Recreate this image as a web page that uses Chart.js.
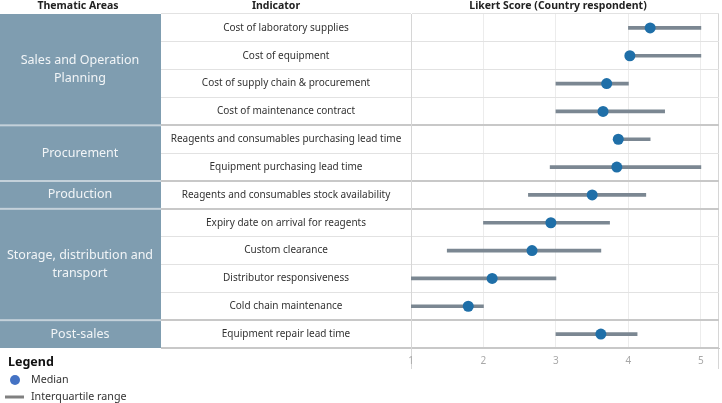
<!DOCTYPE html>
<html>
<head>
<meta charset="utf-8">
<script src="https://cdn.jsdelivr.net/npm/chart.js@4.4.1/dist/chart.umd.min.js"></script>
<style>
  html, body { margin: 0; padding: 0; background: #fff; }
  #wrap { width: 722px; height: 403px; position: relative; }
</style>
</head>
<body>
<div id="wrap"><canvas id="likert"></canvas></div>
<script>
const indicators = [
    'Cost of laboratory supplies',
    'Cost of equipment',
    'Cost of supply chain & procurement',
    'Cost of maintenance contract',
    'Reagents and consumables purchasing lead time',
    'Equipment purchasing lead time',
    'Reagents and consumables stock availability',
    'Expiry date on arrival for reagents',
    'Custom clearance',
    'Distributor responsiveness',
    'Cold chain maintenance',
    'Equipment repair lead time'
];
const q1Values     = [4.0, 4.0, 3.0, 3.0, 3.85, 2.92, 2.62, 2.0, 1.5, 1.0, 1.0, 3.0];
const q3Values     = [5.0, 5.0, 4.0, 4.5, 4.3, 5.0, 4.24, 3.74, 3.62, 3.0, 2.0, 4.12];
const medianValues = [4.3, 4.02, 3.7, 3.65, 3.86, 3.84, 3.5, 2.93, 2.67, 2.12, 1.79, 3.62];

// thematic areas, as lines of text, and how many indicators each one covers
const thematicAreas = [
    ['Sales and Operation', 'Planning'],
    ['Procurement'],
    ['Production'],
    ['Storage, distribution and', 'transport'],
    ['Post-sales']
];
const areaCounts = [4, 2, 1, 4, 1];
const xTicks = [1, 2, 3, 4, 5];

const FONT = '"Noto Sans", "Open Sans", sans-serif';

// group boundaries (grid line index at top of each group) + bottom line
const groupStarts = [];
areaCounts.reduce((acc, n) => { groupStarts.push(acc); return acc + n; }, 0);
const isGroupLine = i => i === undefined || (i > 0 && groupStarts.includes(i));

const tablePlugin = {
    id: 'table',
    beforeDraw(chart) {
        const { ctx, chartArea } = chart;
        const y = chart.scales.y;
        const half = (y.getPixelForValue(1) - y.getPixelForValue(0)) / 2;
        ctx.save();

        // header row
        ctx.fillStyle = '#222';
        ctx.font = 'bold 10.5px ' + FONT;
        ctx.textAlign = 'center';
        ctx.textBaseline = 'middle';
        ctx.fillText('Thematic Areas', 78, 6);
        ctx.fillText('Indicator', 276, 6);
        ctx.fillText('Likert Score (Country respondent)', 558, 6);

        // thematic cells
        let start = 0;
        thematicAreas.forEach((lines, k) => {
            const end = start + areaCounts[k] - 1;
            const top = y.getPixelForValue(start) - half;
            const bottom = y.getPixelForValue(end) + half;
            ctx.fillStyle = '#7f9db0';
            ctx.fillRect(0, top, 161, bottom - top);
            if (k > 0) {
                ctx.fillStyle = '#c4d1da';
                ctx.fillRect(0, top - 1, 161, 2);
            }
            ctx.fillStyle = '#f2f5f7';
            ctx.font = '12.5px ' + FONT;
            const mid = (top + bottom) / 2;
            const lh = 18;
            lines.forEach((t, j) => {
                ctx.fillText(t, 80, mid + (j - (lines.length - 1) / 2) * lh);
            });
            start = end + 1;
        });

        // indicator labels
        ctx.fillStyle = '#333';
        ctx.font = '10px ' + FONT;
        indicators.forEach((t, i) => {
            ctx.fillText(t, 286, y.getPixelForValue(i));
        });

        // frame lines running down past the axis
        ctx.strokeStyle = '#d6d6d6';
        ctx.lineWidth = 1;
        ctx.beginPath();
        ctx.moveTo(chartArea.left + 0.5, chartArea.bottom);
        ctx.lineTo(chartArea.left + 0.5, 369);
        ctx.moveTo(chartArea.right - 0.5, chartArea.top);
        ctx.lineTo(chartArea.right - 0.5, 369);
        ctx.stroke();

        // legend
        ctx.textAlign = 'left';
        ctx.fillStyle = '#111';
        ctx.font = 'bold 12.5px ' + FONT;
        ctx.fillText('Legend', 8, 362);
        ctx.fillStyle = '#4472c4';
        ctx.beginPath();
        ctx.arc(15, 380, 5, 0, Math.PI * 2);
        ctx.fill();
        ctx.strokeStyle = '#808080';
        ctx.lineWidth = 3;
        ctx.beginPath();
        ctx.moveTo(5, 397);
        ctx.lineTo(24, 397);
        ctx.stroke();
        ctx.fillStyle = '#333';
        ctx.font = '10.7px ' + FONT;
        ctx.fillText('Median', 31, 380);
        ctx.fillText('Interquartile range', 31, 397);
        ctx.restore();
    }
};

new Chart(document.getElementById('likert'), {
    type: 'bar',
    data: {
        labels: indicators,
        datasets: [
            {
                type: 'line',
                label: 'Median',
                indexAxis: 'y',
                data: medianValues,
                showLine: false,
                pointRadius: 5.5,
                pointBackgroundColor: '#1f6fa8',
                pointBorderWidth: 0,
                order: 0
            },
            {
                label: 'Interquartile range',
                indexAxis: 'y',
                data: q1Values.map((q, i) => [q, q3Values[i]]),
                backgroundColor: '#7b8792',
                barThickness: 3,
                borderSkipped: false,
                order: 1
            }
        ]
    },
    options: {
        indexAxis: 'y',
        responsive: true,
        maintainAspectRatio: false,
        animation: false,
        layout: { autoPadding: false, padding: { left: 161, top: 14, right: 3, bottom: 0 } },
        plugins: {
            legend: { display: false },
            tooltip: { enabled: false }
        },
        scales: {
            x: {
                type: 'linear',
                min: 1,
                max: 5.25,
                afterBuildTicks: scale => { scale.ticks = xTicks.map(v => ({ value: v })); },
                afterFit: scale => { scale.height = 55; },
                grid: { color: '#ececec', drawTicks: false },
                border: { color: '#c8c8c8' },
                ticks: { color: '#a8a8a8', padding: 7, font: { size: 10, family: FONT } }
            },
            y: {
                type: 'category',
                afterFit: scale => { scale.width = 250; },
                ticks: { display: false },
                grid: {
                    offset: true,
                    tickLength: 250,
                    color: ctx => isGroupLine(ctx.index) ? '#c8c8c8' : '#e2e2e2',
                    tickColor: ctx => isGroupLine(ctx.index) ? '#c8c8c8' : '#e2e2e2',
                    lineWidth: ctx => isGroupLine(ctx.index) ? 2 : 1,
                    tickWidth: ctx => isGroupLine(ctx.index) ? 2 : 1
                },
                border: { color: '#d6d6d6' }
            }
        }
    },
    plugins: [tablePlugin]
});
</script>
</body>
</html>
